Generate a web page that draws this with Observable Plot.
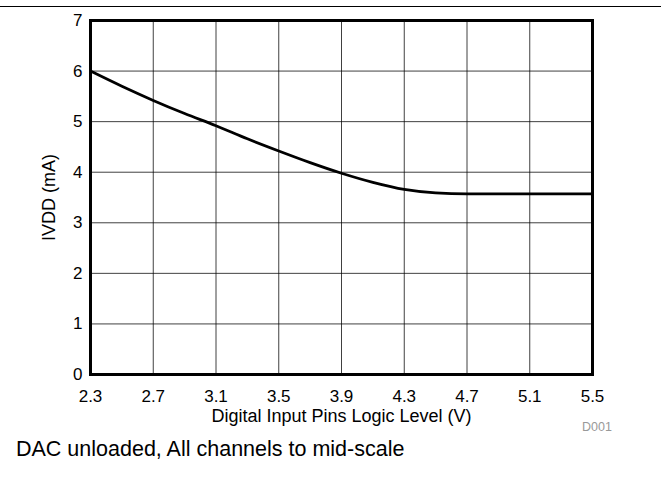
<!DOCTYPE html>
<html>
<head>
<meta charset="utf-8">
<script src="https://cdn.jsdelivr.net/npm/d3@7"></script>
<script src="https://cdn.jsdelivr.net/npm/@observablehq/plot@0.6"></script>
<style>
  html, body { margin: 0; padding: 0; background: #fff; }
  body { width: 661px; height: 483px; position: relative; overflow: hidden; font-family: "Liberation Sans", Arial, sans-serif; }
  #topline { position: absolute; left: 0; top: 6px; width: 661px; height: 0; border-top: 1.5px solid #000; }
  #chart { position: absolute; left: 0; top: 8px; }
  #chart svg text { fill: #000; }
  #chart svg g[aria-label="x-axis tick label"] text, #chart svg g[aria-label="y-axis tick label"] text { font-size: 17px; }
  #chart svg g[aria-label="x-axis label"] text, #chart svg g[aria-label="y-axis label"] text { font-size: 18px; }
  #caption { position: absolute; left: 16px; top: 437px; font-size: 21.5px; line-height: 1.15; color: #000; white-space: nowrap; }
  #code { position: absolute; left: 582px; top: 420px; font-size: 12.5px; line-height: 1.15; color: #999; }
</style>
</head>
<body>
<div id="topline"></div>
<div id="chart"></div>
<div id="caption">DAC unloaded, All channels to mid-scale</div>
<div id="code">D001</div>
<script>
const voltage = [2.3, 2.5, 2.7, 2.9, 3.1, 3.3, 3.5, 3.7, 3.9, 4.1, 4.3, 4.5, 4.7, 4.9, 5.1, 5.3, 5.5];
const ivdd    = [6.0, 5.70, 5.42, 5.16, 4.92, 4.66, 4.42, 4.19, 3.98, 3.80, 3.66, 3.59, 3.57, 3.57, 3.57, 3.57, 3.57];
const xTicks = [2.3, 2.7, 3.1, 3.5, 3.9, 4.3, 4.7, 5.1, 5.5];
const yTicks = [0, 1, 2, 3, 4, 5, 6, 7];

const data = voltage.map((v, i) => ({v, i: ivdd[i]}));

const chart = Plot.plot({
  width: 661,
  height: 425,
  marginTop: 12,
  marginBottom: 59,
  marginLeft: 90,
  marginRight: 69,
  style: {fontFamily: "'Liberation Sans', Arial, sans-serif", fontSize: "17px", color: "#000", background: "transparent", overflow: "visible"},
  x: {domain: [2.3, 5.5]},
  y: {domain: [0, 7]},
  marks: [
    Plot.gridX(xTicks, {stroke: "#000", strokeOpacity: 0.75, strokeWidth: 1}),
    Plot.gridY(yTicks, {stroke: "#000", strokeOpacity: 0.75, strokeWidth: 1}),
    Plot.axisX(xTicks, {tickSize: 0, tickPadding: 15, tickFormat: d => d.toFixed(1), label: "Digital Input Pins Logic Level (V)", labelAnchor: "center", labelArrow: "none", labelOffset: 47}),
    Plot.axisY(yTicks, {tickSize: 0, tickPadding: 8, tickFormat: d => String(d), label: "IVDD (mA)", labelAnchor: "center", labelArrow: "none", labelOffset: 48}),
    Plot.line(data, {x: "v", y: "i", stroke: "#000", strokeWidth: 2.75, curve: "monotone-x"}),
    Plot.frame({stroke: "#000", strokeWidth: 3})
  ]
});
document.getElementById("chart").appendChild(chart);
</script>
</body>
</html>
